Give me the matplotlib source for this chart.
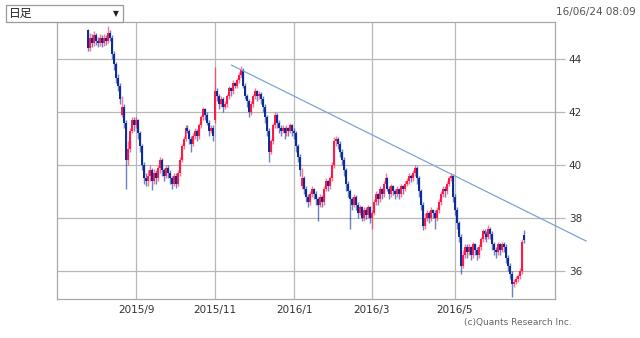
import numpy as np
import pandas as pd
import matplotlib
matplotlib.use("Agg")
import matplotlib.pyplot as plt
from matplotlib.patches import Rectangle

# Japanese market holidays inside the period
holidays = ["2015-09-21", "2015-09-22", "2015-09-23", "2015-10-12",
            "2015-11-03", "2015-11-23", "2015-12-23", "2015-12-31",
            "2016-01-01", "2016-01-11", "2016-02-11", "2016-03-21",
            "2016-04-29", "2016-05-03", "2016-05-04", "2016-05-05"]
dates = pd.bdate_range("2015-07-29", "2016-06-23", freq="C", holidays=holidays)

opens = [45.1, 44.4, 44.8, 44.6, 44.9, 44.7, 44.6, 44.8, 44.6, 44.8,
         44.7, 45.0, 44.8, 44.2, 43.8, 43.3, 43.0, 41.9, 42.2, 41.6,
         40.2, 40.6, 41.3, 41.7, 41.5, 41.7, 41.2, 40.7, 40.0, 39.5,
         39.4, 39.6, 39.8, 39.4, 39.7, 39.5, 39.9, 40.2, 39.8, 39.6,
         39.9, 39.7, 39.5, 39.3, 39.6, 39.3, 39.7, 40.2, 40.7, 41.0,
         41.4, 41.3, 41.0, 40.8, 41.1, 41.3, 41.1, 41.5, 41.8, 42.1,
         41.9, 41.6, 41.3, 41.4, 41.7, 42.8, 42.6, 42.3, 42.5, 42.2,
         42.3, 42.6, 42.9, 42.8, 43.1, 43.0, 43.2, 43.4, 43.6, 43.0,
         42.6, 42.4, 42.0, 42.3, 42.6, 42.8, 42.6, 42.7, 42.5, 42.2,
         41.8, 41.3, 40.5, 40.9, 41.5, 41.9, 41.6, 41.4, 41.3, 41.4,
         41.2, 41.4, 41.3, 41.5, 41.3, 41.2, 40.7, 40.3, 39.2, 39.5,
         39.1, 38.8, 38.6, 38.9, 39.1, 38.9, 38.7, 38.5, 38.8, 38.6,
         39.1, 39.4, 39.2, 39.5, 40.0, 40.9, 41.0, 40.8, 40.5, 40.2,
         39.8, 39.3, 39.0, 38.7, 38.5, 38.8, 38.5, 38.2, 38.4, 38.0,
         38.3, 38.1, 38.4, 38.0, 38.2, 38.6, 38.9, 38.7, 39.1, 38.9,
         39.3, 39.5, 39.1, 38.9, 39.2, 39.0, 38.9, 39.1, 38.9, 39.2,
         39.1, 39.3, 39.4, 39.6, 39.5, 39.7, 39.9, 39.5, 39.0, 38.5,
         37.7, 38.0, 38.2, 38.0, 38.3, 38.2, 38.0, 38.3, 38.6, 38.9,
         39.1, 39.0, 39.3, 39.5, 39.6, 38.8, 38.3, 37.8, 37.3, 36.2,
         36.6, 36.9, 36.7, 36.9, 36.6, 37.0, 36.8, 36.6, 36.9, 37.2,
         37.5, 37.4, 37.3, 37.6, 37.4, 37.0, 36.8, 36.7, 37.0, 36.8,
         37.0, 36.9, 36.5, 36.2, 35.9, 35.5, 35.6, 35.7, 35.8, 36.0, 37.35]

highs = [45.15, 45.0, 44.95, 45.05, 45.0, 44.85, 44.95, 44.9, 44.95, 44.9,
         45.25, 45.1, 44.9, 44.3, 43.9, 43.45, 43.1, 42.6, 42.3, 41.7,
         40.9, 41.4, 41.8, 41.8, 41.8, 41.75, 41.3, 40.8, 40.1, 39.7,
         39.8, 40.0, 39.9, 39.85, 39.8, 40.0, 40.3, 40.25, 39.9, 40.0,
         40.0, 39.8, 39.6, 39.7, 39.7, 39.8, 40.3, 40.8, 41.1, 41.5,
         41.5, 41.35, 41.1, 41.2, 41.4, 41.35, 41.6, 41.9, 42.2, 42.15,
         42.0, 41.7, 41.5, 41.5, 43.7, 42.9, 42.7, 42.6, 42.55, 42.4,
         42.7, 43.0, 42.95, 43.2, 43.15, 43.3, 43.5, 43.75, 43.65, 43.1,
         42.7, 42.5, 42.4, 42.7, 42.9, 42.85, 42.8, 42.75, 42.6, 42.3,
         41.9, 41.4, 41.0, 41.6, 42.0, 41.95, 41.7, 41.5, 41.5, 41.45,
         41.5, 41.45, 41.6, 41.55, 41.4, 41.3, 40.8, 40.4, 39.9, 39.6,
         39.2, 38.9, 39.0, 39.2, 39.15, 39.0, 38.8, 38.9, 38.85, 39.2,
         39.5, 39.45, 39.6, 40.1, 41.05, 41.1, 41.05, 40.9, 40.6, 40.3,
         39.9, 39.4, 39.1, 38.8, 38.9, 38.85, 38.6, 38.5, 38.45, 38.4,
         38.4, 38.5, 38.45, 38.3, 38.7, 39.0, 38.95, 39.2, 39.15, 39.4,
         39.7, 39.55, 39.2, 39.3, 39.25, 39.1, 39.2, 39.15, 39.3, 39.25,
         39.4, 39.5, 39.7, 39.65, 39.8, 40.0, 39.95, 39.6, 39.1, 38.6,
         38.2, 38.3, 38.25, 38.4, 38.35, 38.3, 38.4, 38.7, 39.0, 39.2,
         39.2, 39.4, 39.6, 39.7, 39.65, 38.9, 38.4, 37.9, 37.4, 36.8,
         37.0, 37.0, 37.0, 36.95, 37.1, 37.05, 36.9, 37.0, 37.3, 37.6,
         37.6, 37.5, 37.75, 37.65, 37.5, 37.1, 36.9, 37.1, 37.05, 37.1,
         37.1, 37.0, 36.6, 36.3, 36.0, 35.7, 35.8, 35.9, 36.1, 37.2, 37.55]

lows = [44.3, 44.3, 44.45, 44.5, 44.55, 44.45, 44.5, 44.45, 44.5, 44.55,
        44.6, 44.7, 44.0, 43.6, 43.1, 42.8, 42.3, 41.8, 41.4, 39.1,
        40.0, 40.5, 41.2, 41.3, 41.4, 41.0, 40.5, 39.8, 39.3, 39.2,
        39.2, 39.4, 39.05, 39.3, 39.3, 39.4, 39.7, 39.6, 39.4, 39.5,
        39.5, 39.3, 39.1, 39.2, 39.15, 39.2, 39.6, 40.1, 40.6, 40.9,
        41.2, 40.8, 40.5, 40.7, 41.0, 40.9, 41.0, 41.4, 41.7, 41.7,
        41.5, 41.1, 41.2, 40.9, 41.6, 42.4, 42.1, 42.2, 42.0, 42.1,
        42.2, 42.5, 42.6, 42.7, 42.9, 42.9, 43.1, 43.3, 42.9, 42.5,
        42.2, 41.8, 41.9, 42.2, 42.5, 42.4, 42.5, 42.3, 42.0, 41.6,
        41.1, 40.1, 40.4, 40.8, 41.4, 41.4, 41.2, 41.1, 41.2, 41.0,
        41.1, 41.1, 41.2, 41.1, 41.0, 40.5, 40.1, 39.6, 39.1, 38.9,
        38.6, 38.4, 38.5, 38.8, 38.7, 38.5, 37.9, 38.4, 38.4, 38.5,
        39.0, 39.0, 39.1, 39.4, 39.9, 40.7, 40.6, 40.3, 40.0, 39.6,
        39.0, 38.8, 37.6, 38.3, 38.4, 38.3, 38.0, 38.1, 37.9, 37.9,
        37.95, 38.0, 37.8, 37.6, 38.1, 38.5, 38.5, 38.6, 38.7, 38.8,
        39.2, 39.0, 38.7, 38.8, 38.85, 38.7, 38.8, 38.7, 38.8, 38.9,
        39.0, 39.2, 39.3, 39.35, 39.4, 39.6, 39.3, 38.8, 38.3, 37.55,
        37.6, 37.9, 37.8, 37.9, 38.0, 37.6, 37.9, 38.2, 38.5, 38.8,
        38.8, 38.9, 39.2, 39.4, 38.6, 38.1, 37.6, 37.1, 35.9, 36.1,
        36.5, 36.5, 36.6, 36.4, 36.5, 36.6, 36.4, 36.5, 36.8, 37.1,
        37.2, 37.1, 37.2, 37.2, 36.8, 36.6, 36.5, 36.6, 36.6, 36.7,
        36.7, 36.3, 36.0, 35.7, 35.0, 35.4, 35.5, 35.6, 35.7, 35.9, 37.05]

closes = [44.4, 44.8, 44.6, 44.9, 44.7, 44.6, 44.8, 44.6, 44.8, 44.7,
          45.0, 44.8, 44.2, 43.8, 43.3, 43.0, 42.5, 42.2, 41.6, 40.2,
          40.6, 41.3, 41.7, 41.5, 41.7, 41.2, 40.7, 40.0, 39.5, 39.4,
          39.6, 39.8, 39.4, 39.7, 39.5, 39.9, 40.2, 39.8, 39.6, 39.9,
          39.7, 39.5, 39.3, 39.6, 39.3, 39.7, 40.2, 40.7, 41.0, 41.4,
          41.3, 41.0, 40.8, 41.1, 41.3, 41.1, 41.5, 41.8, 42.1, 41.9,
          41.6, 41.3, 41.4, 41.1, 42.8, 42.6, 42.3, 42.5, 42.2, 42.3,
          42.6, 42.9, 42.8, 43.1, 43.0, 43.2, 43.4, 43.6, 43.0, 42.6,
          42.4, 42.0, 42.3, 42.6, 42.8, 42.6, 42.7, 42.5, 42.2, 41.8,
          41.3, 40.5, 40.9, 41.5, 41.9, 41.6, 41.4, 41.3, 41.4, 41.2,
          41.4, 41.3, 41.5, 41.3, 41.2, 40.7, 40.3, 39.8, 39.5, 39.1,
          38.8, 38.6, 38.9, 39.1, 38.9, 38.7, 38.5, 38.8, 38.6, 39.1,
          39.4, 39.2, 39.5, 40.0, 40.9, 41.0, 40.8, 40.5, 40.2, 39.8,
          39.3, 39.0, 38.7, 38.5, 38.8, 38.5, 38.2, 38.4, 38.0, 38.3,
          38.1, 38.4, 38.0, 38.2, 38.6, 38.9, 38.7, 39.1, 38.9, 39.3,
          39.5, 39.1, 38.9, 39.2, 39.0, 38.9, 39.1, 38.9, 39.2, 39.1,
          39.3, 39.4, 39.6, 39.5, 39.7, 39.9, 39.5, 39.0, 38.5, 37.7,
          38.0, 38.2, 38.0, 38.3, 38.2, 38.0, 38.3, 38.6, 38.9, 39.1,
          39.0, 39.3, 39.5, 39.6, 38.8, 38.3, 37.8, 37.3, 36.2, 36.6,
          36.9, 36.7, 36.9, 36.6, 37.0, 36.8, 36.6, 36.9, 37.2, 37.5,
          37.4, 37.3, 37.6, 37.4, 37.0, 36.8, 36.7, 37.0, 36.8, 37.0,
          36.9, 36.5, 36.2, 35.9, 35.5, 35.6, 35.7, 35.8, 36.0, 37.1, 37.15]

# resistance trend line (bar position, price)
trend_pos = [72.3, 251.3]
trend_val = [43.77, 37.13]

label_months = [9, 11, 1, 3, 5]
y_ticks = [36, 38, 40, 42, 44]

up_color = "#ff1848"
down_color = "#0c2c9a"

o = np.array(opens)
h = np.array(highs)
l = np.array(lows)
c = np.array(closes)
pos = np.arange(len(dates))
up = c >= o
colors = np.where(up, up_color, down_color)

fig = plt.figure(figsize=(6.4, 3.38), dpi=100)
ax = fig.add_axes([57 / 640, 39 / 338, 498 / 640, 277 / 338])

# wicks
ax.vlines(pos, l, h, colors=colors, linewidth=1.0, alpha=0.6, zorder=3)
# bodies
body_low = np.minimum(o, c)
body_h = np.maximum(np.abs(c - o), 0.05)
ax.bar(pos, body_h, bottom=body_low, width=1.0, color=colors,
       linewidth=0, zorder=4)

ax.plot(trend_pos, trend_val, color="#7fa3d6", linewidth=0.9,
        clip_on=False, zorder=5)

# month ticks on first trading day of the month
first_day = np.r_[True, dates.month[1:] != dates.month[:-1]]
tick_pos = [i for i in pos if first_day[i] and dates[i].month in label_months]
tick_lab = ["%d/%d" % (dates[i].year, dates[i].month) for i in tick_pos]

ax.set_xlim(-15.9, 235.6)
ax.set_ylim(34.94, 45.4)
ax.set_xticks(tick_pos)
ax.set_xticklabels(tick_lab)
ax.set_yticks(y_ticks)
ax.yaxis.tick_right()
ax.grid(True, color="#b8b8b8", linewidth=0.9, zorder=0)
ax.set_axisbelow(True)
ax.tick_params(axis="x", length=0, pad=4, labelsize=7.5, labelcolor="#333333")
ax.tick_params(axis="y", length=7, width=0.9, color="#b8b8b8", pad=3,
               labelsize=7.5, labelcolor="#333333")
for s in ax.spines.values():
    s.set_color("#a8a8a8")
    s.set_linewidth(0.9)

# header widgets
fig.patches.append(Rectangle((6 / 640, 1 - 22 / 338), 117 / 640, 17 / 338,
                             transform=fig.transFigure, facecolor="white",
                             edgecolor="#999999", linewidth=0.9, zorder=10))
fig.text(9 / 640, 1 - 13.5 / 338, "日足", family=["Noto Sans CJK JP", "DejaVu Sans"],
         fontsize=8.5, va="center", ha="left", color="#222222", zorder=11)
fig.text(116 / 640, 1 - 13.5 / 338, "▼", family=["DejaVu Sans"],
         fontsize=5.5, va="center", ha="center", color="#222222", zorder=11)
fig.text(636 / 640, 1 - 12 / 338, "16/06/24 08:09", fontsize=7.5,
         ha="right", va="center", color="#555555")
fig.text(572 / 640, 1 - 322 / 338, "(c)Quants Research Inc.", fontsize=6.5,
         ha="right", va="center", color="#666666")

fig.savefig("out.png", dpi=100)
